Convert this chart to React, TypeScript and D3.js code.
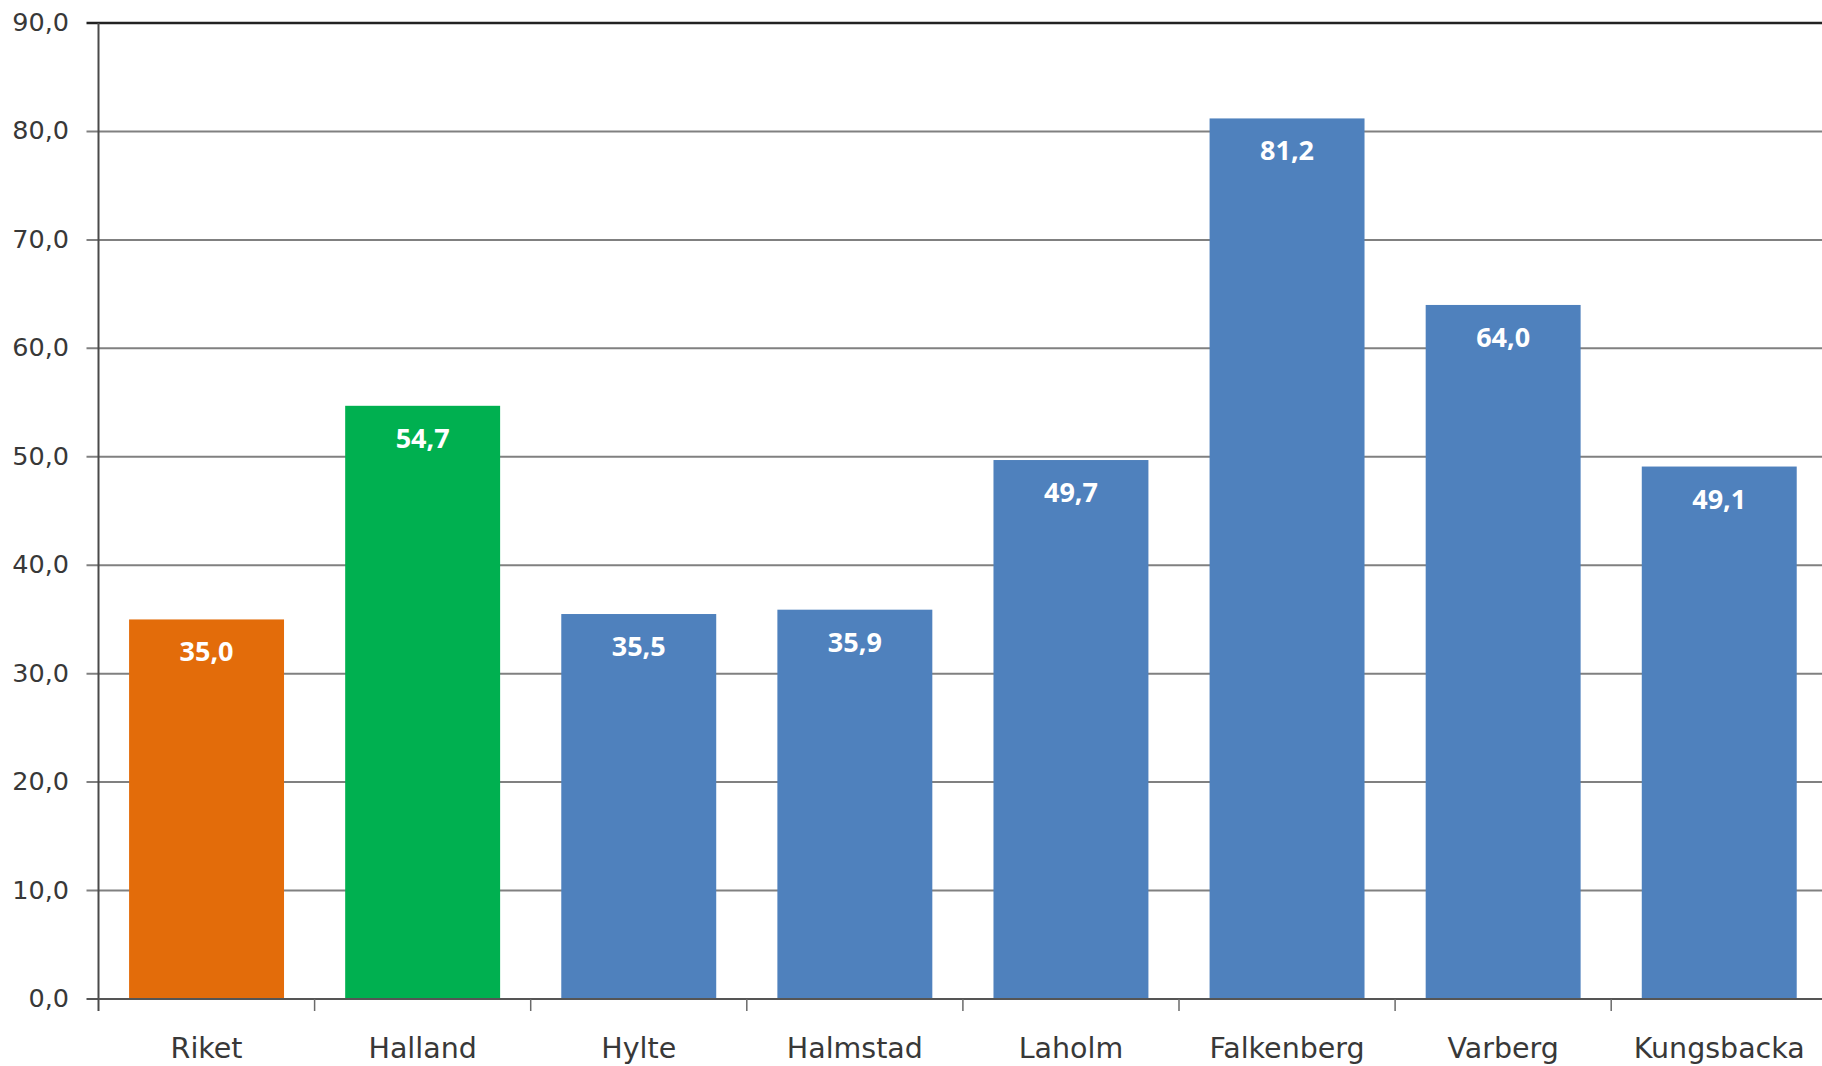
import React from "react";
import * as d3 from "d3";

const categories = ["Riket", "Halland", "Hylte", "Halmstad", "Laholm", "Falkenberg", "Varberg", "Kungsbacka"];
const values = [35.0, 54.7, 35.5, 35.9, 49.7, 81.2, 64.0, 49.1];
const barColors = ["#E36C0A", "#00B050", "#4F81BD", "#4F81BD", "#4F81BD", "#4F81BD", "#4F81BD", "#4F81BD"];
const yTicks = [0, 10, 20, 30, 40, 50, 60, 70, 80, 90];

const width = 1822;
const height = 1066;
const margin = { top: 23, left: 98.5, bottom: 999 };
const plotRight = 98.5 + 8 * 216.1;

const fmt = (v: number) => v.toFixed(1).replace(".", ",");

const App: React.FC = () => {
  const x = d3
    .scaleBand<string>()
    .domain(categories)
    .range([margin.left, plotRight])
    .paddingInner(0.283)
    .paddingOuter(0.1415);

  const y = d3.scaleLinear().domain([0, 90]).range([margin.bottom, margin.top]);

  const step = x.step();
  const textColor = "#383838";

  return (
    <svg
      width={width}
      height={height}
      style={{ position: "absolute", left: 0, top: 0, background: "#fff" }}
    >
      {/* gridlines */}
      {yTicks.map((t) => (
        <line
          key={"g" + t}
          x1={margin.left - 12}
          x2={width}
          y1={y(t)}
          y2={y(t)}
          stroke={t === 90 ? "#222" : t === 0 ? "#555" : "#808080"}
          strokeWidth={t === 90 ? 2.5 : 2}
        />
      ))}

      {/* y axis */}
      <line x1={margin.left} x2={margin.left} y1={y(90)} y2={y(0) + 12} stroke="#4a4a4a" strokeWidth={2} />
      {yTicks.map((t) => (
        <text
          key={"yl" + t}
          x={69}
          y={y(t) + 8}
          textAnchor="end"
          fontFamily="'DejaVu Sans', sans-serif"
          fontSize={25.5}
          fill={textColor}
        >
          {fmt(t)}
        </text>
      ))}

      {/* bars */}
      {categories.map((c, i) => (
        <rect
          key={"b" + c}
          x={x(c)!}
          y={y(values[i])}
          width={x.bandwidth()}
          height={y(0) - y(values[i])}
          fill={barColors[i]}
        />
      ))}

      {/* x axis */}
      <line x1={margin.left} x2={width} y1={y(0)} y2={y(0)} stroke="#555" strokeWidth={2} />
      {categories.map((c, i) => (
        <line
          key={"xt" + c}
          x1={margin.left + step * (i + 1)}
          x2={margin.left + step * (i + 1)}
          y1={y(0)}
          y2={y(0) + 12}
          stroke="#6a6a6a"
          strokeWidth={1.5}
        />
      ))}
      {categories.map((c) => (
        <text
          key={"xl" + c}
          x={x(c)! + x.bandwidth() / 2}
          y={1058}
          textAnchor="middle"
          fontFamily="'DejaVu Sans', sans-serif"
          fontSize={28.5}
          fill={textColor}
        >
          {c}
        </text>
      ))}

      {/* value labels */}
      {categories.map((c, i) => (
        <text
          key={"v" + c}
          x={x(c)! + x.bandwidth() / 2}
          y={y(values[i]) + 42}
          textAnchor="middle"
          fontFamily="'Open Sans', sans-serif"
          fontWeight="bold"
          fontSize={27}
          fill="#ffffff"
        >
          {fmt(values[i])}
        </text>
      ))}
    </svg>
  );
};

export default App;
